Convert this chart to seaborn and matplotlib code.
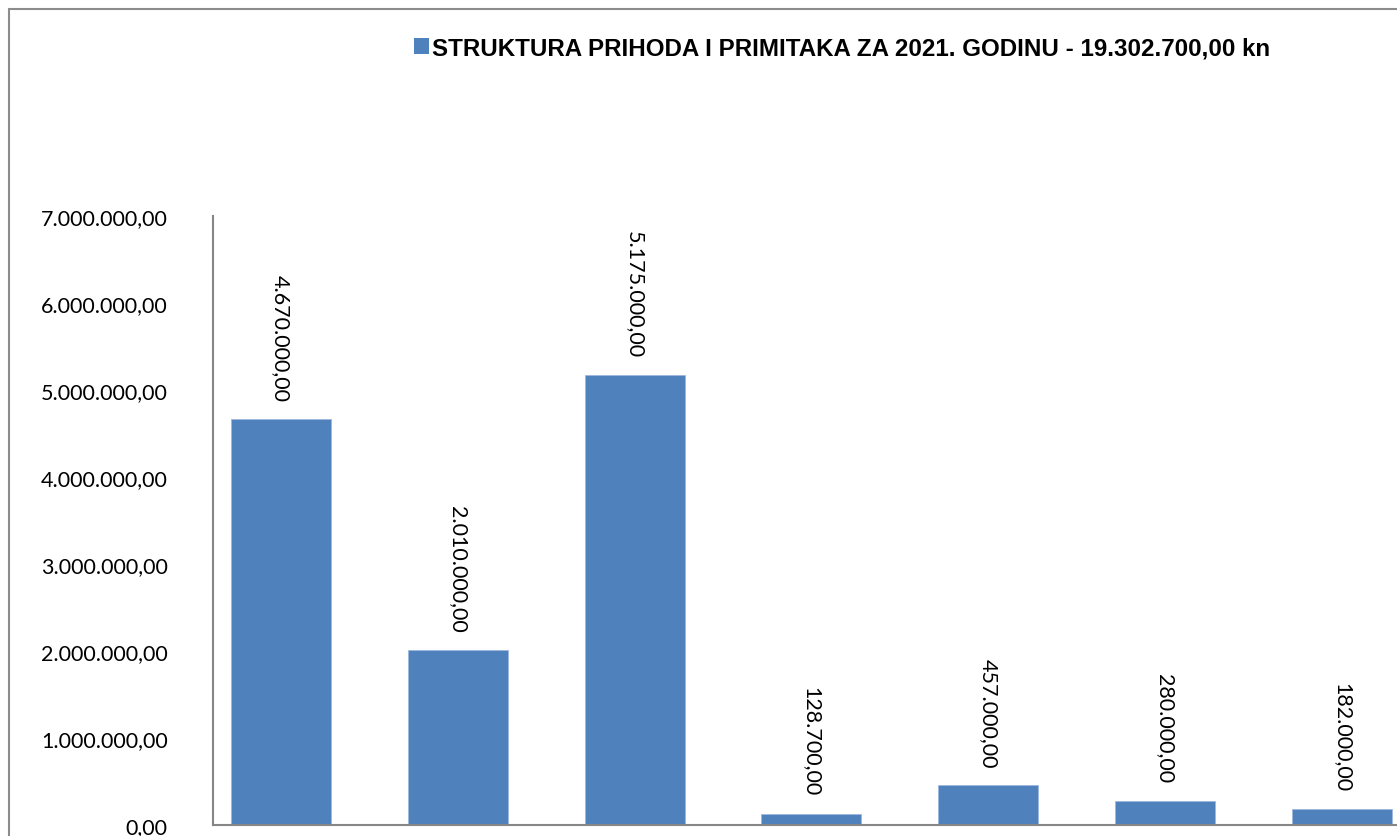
import matplotlib
matplotlib.use('Agg')
import matplotlib.pyplot as plt
import seaborn as sns
from matplotlib.patches import Patch
from matplotlib.lines import Line2D
from matplotlib.ticker import FuncFormatter, MultipleLocator

# podaci
categories = ['1', '2', '3', '4', '5', '6', '7']
values = [4670000, 2010000, 5175000, 128700, 457000, 280000, 182000]
legend_title = 'STRUKTURA PRIHODA I PRIMITAKA ZA 2021. GODINU - 19.302.700,00 kn'

bar_color = '#4F81BD'
grey = '#8C8C8C'


def hr_format(v, pos=None):
    s = f'{v:,.2f}'
    return s.replace(',', 'X').replace('.', ',').replace('X', '.')


sns.set_style('white')
plt.rcParams['font.family'] = ['Lato', 'DejaVu Sans']
plt.rcParams['text.color'] = 'black'
plt.rcParams['ytick.color'] = 'black'

W, H = 1397, 837
fig = plt.figure(figsize=(W / 100, H / 100), dpi=100)
ax = fig.add_axes([213 / W, 1 - 826 / H, 1 - 213 / W, (826 - 217) / H])

sns.barplot(x=categories, y=values, color=bar_color, width=0.566,
            saturation=1, edgecolor='#9DB9DD', linewidth=0.6, ax=ax)

ax.set_xlim(-0.3846, 6.312)
ax.set_ylim(0, 7000000)
ax.yaxis.set_major_locator(MultipleLocator(1000000))
ax.yaxis.set_major_formatter(FuncFormatter(hr_format))
ax.tick_params(axis='y', length=0, pad=32.5, labelsize=15.5, labelcolor='black')
ax.set_xticks([])
ax.set_xlabel('')
ax.set_ylabel('')

for side in ['top', 'right']:
    ax.spines[side].set_visible(False)
for side in ['left', 'bottom']:
    ax.spines[side].set_color('#868686')
    ax.spines[side].set_linewidth(1.5)

# oznake vrijednosti iznad stupaca
for i, v in enumerate(values):
    ax.annotate(hr_format(v), (i, v), xytext=(0, 13), textcoords='offset points',
                rotation=270, ha='center', va='bottom', fontsize=15.5, color='black')

# legenda
handle = Patch(facecolor=bar_color, edgecolor='none')
fig.legend([handle], [legend_title], loc='center left',
           bbox_to_anchor=(414 / W, 1 - 49 / H), frameon=False,
           borderpad=0, borderaxespad=0, handlelength=0.6, handleheight=0.6,
           handletextpad=0.15,
           prop={'family': 'Liberation Sans', 'weight': 'bold', 'size': 17.4})

# okvir grafikona
fig.add_artist(Line2D([9 / W, 9 / W], [0, 1 - 10 / H], transform=fig.transFigure,
                      color=grey, lw=1.5))
fig.add_artist(Line2D([9 / W, 1], [1 - 10 / H, 1 - 10 / H], transform=fig.transFigure,
                      color=grey, lw=1.5))

fig.savefig('out.png', dpi=100)
